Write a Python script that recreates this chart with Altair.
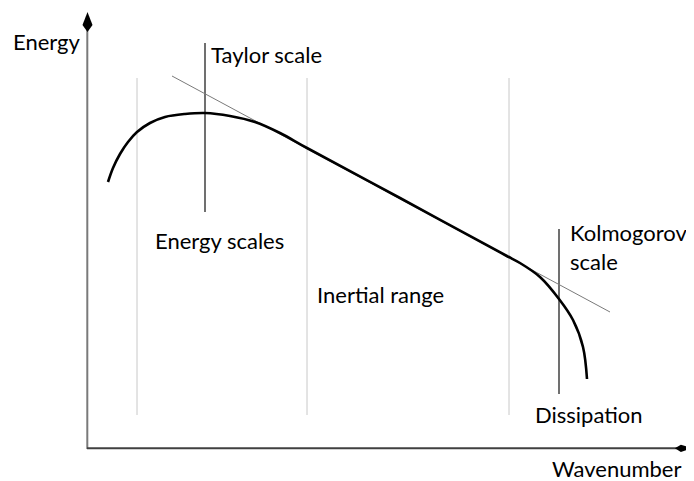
import altair as alt
import pandas as pd

# Coordinates in arbitrary schematic units: origin at the axes' corner
# Energy spectrum curve (wavenumber, energy)
curve_k = [21, 26, 33, 41, 50, 63, 78, 98, 118, 143, 168, 193, 220, 313, 418, 433, 453, 472, 486, 496, 500]
curve_e = [267, 281, 295, 307, 317, 326, 332, 335, 336, 333, 327, 316, 301, 251, 194, 186, 172, 150, 129, 102, 70]

# Tangent (power-law) line end points
tan_k = [85, 523]
tan_e = [373, 137]

# Region boundary lines (light gray)
region_k = [50, 220, 422]
region_top = [371, 371, 371]
region_bot = [34, 34, 34]

# Characteristic scales (dark lines)
scale_k = [118, 472]
scale_top = [406, 220]
scale_bot = [237, 55]

# Labels (left edge, baseline)
label_text = ["Energy", "Taylor scale", "Energy scales", "Inertial range", "Kolmogorov", "scale", "Dissipation", "Wavenumber"]
label_k = [-74, 124, 68, 230, 483, 483, 448, 465]
label_e = [399, 386, 200, 146, 208, 179, 26, -28]

X = alt.Scale(domain=[-79, 599], nice=False, zero=False)
Y = alt.Scale(domain=[-32, 441], nice=False, zero=False)

def xe(f):
    return alt.X(f, type="quantitative", scale=X, axis=None)

def ye(f):
    return alt.Y(f, type="quantitative", scale=Y, axis=None)

curve_df = pd.DataFrame({"k": curve_k, "e": curve_e})
tan_df = pd.DataFrame({"k": tan_k, "e": tan_e})
region_df = pd.DataFrame({"k": region_k, "top": region_top, "bot": region_bot})
scale_df = pd.DataFrame({"k": scale_k, "top": scale_top, "bot": scale_bot})
label_df = pd.DataFrame({"t": label_text, "k": label_k, "e": label_e})

yaxis_df = pd.DataFrame({"k": [0.3], "e0": [0], "e1": [420]})
xaxis_df = pd.DataFrame({"e": [0.7], "k0": [0], "k1": [590]})
arrow_up = pd.DataFrame({"k": [0.5], "e": [427]})
arrow_right = pd.DataFrame({"k": [596.5], "e": [0.7]})

regions = alt.Chart(region_df).mark_rule(color="#c8c8c8", strokeWidth=1).encode(
    x=xe("k"), y=ye("bot"), y2="top")
scales = alt.Chart(scale_df).mark_rule(color="#404040", strokeWidth=1.5).encode(
    x=xe("k"), y=ye("bot"), y2="top")
tangent = alt.Chart(tan_df).mark_line(color="#7a7a7a", strokeWidth=1).encode(
    x=xe("k"), y=ye("e"))
curve = alt.Chart(curve_df).mark_line(color="#000000", strokeWidth=2.6, interpolate="catmull-rom").encode(
    x=xe("k"), y=ye("e"))
yaxis = alt.Chart(yaxis_df).mark_rule(color="#7a7a7a", strokeWidth=2).encode(
    x=xe("k"), y=ye("e0"), y2="e1")
xaxis = alt.Chart(xaxis_df).mark_rule(color="#404040", strokeWidth=2).encode(
    x=xe("k0"), x2="k1", y=ye("e"))
up = alt.Chart(arrow_up).mark_point(
    shape="M0,-1 L0.5,0.3 L0,1 L-0.5,0.3 Z", filled=True, color="#000000", size=400, opacity=1
).encode(x=xe("k"), y=ye("e"))
right = alt.Chart(arrow_right).mark_point(
    shape="M1,0 L-0.3,0.42 L-1,0 L-0.3,-0.42 Z", filled=True, color="#000000", size=300, opacity=1
).encode(x=xe("k"), y=ye("e"))
labels = alt.Chart(label_df).mark_text(
    align="left", baseline="alphabetic", font="Lato", fontSize=22, color="#000000"
).encode(x=xe("k"), y=ye("e"), text="t:N")

chart = alt.layer(regions, scales, tangent, curve, yaxis, xaxis, up, right, labels).properties(
    width=678, height=473, padding=0, autosize=alt.AutoSizeParams(type="none")
).configure_view(stroke=None)

chart.save("out.html", embed_options={"renderer": "svg", "actions": False})
